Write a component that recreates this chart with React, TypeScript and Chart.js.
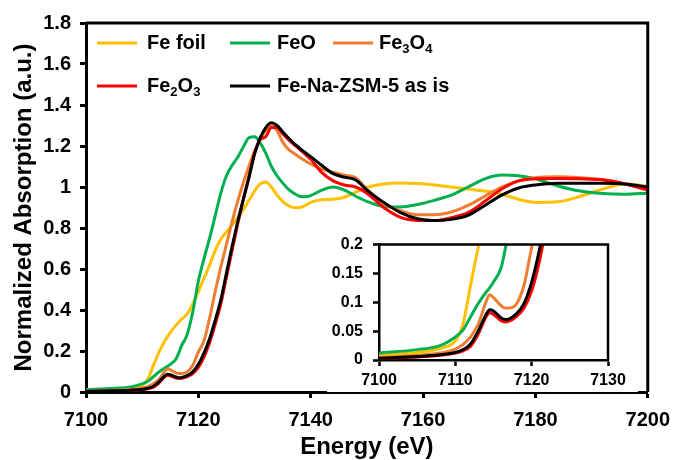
import React, { useEffect, useRef } from "react";
import { Chart, registerables } from "chart.js";

Chart.register(...registerables);

// ---------- data ----------
const energy = [
  7100, 7105, 7108, 7110, 7111, 7112, 7113, 7114, 7114.5, 7115, 7116, 7116.5, 7117, 7118, 7119, 7120,
  7121, 7122, 7123, 7124, 7125, 7126, 7127, 7128, 7129, 7130, 7131, 7132, 7133, 7134, 7135, 7136,
  7137, 7138, 7139, 7140, 7142, 7144, 7146, 7148, 7150, 7153, 7156, 7159, 7162, 7165, 7168, 7171,
  7174, 7177, 7180, 7184, 7188, 7192, 7196, 7200,
];

const feFoil = [
  0.008, 0.013, 0.02, 0.033, 0.062, 0.13, 0.195, 0.248, 0.27, 0.29, 0.325, 0.34, 0.355, 0.38, 0.43, 0.49,
  0.555, 0.62, 0.69, 0.745, 0.78, 0.815, 0.85, 0.89, 0.935, 0.98, 1.015, 1.025, 1.0, 0.96, 0.93, 0.91,
  0.9, 0.9, 0.91, 0.925, 0.938, 0.94, 0.95, 0.975, 0.998, 1.015, 1.02, 1.017, 1.01, 1.0, 0.99, 0.98,
  0.965, 0.94, 0.925, 0.928, 0.955, 0.99, 1.015, 1.005,
];

const feO = [
  0.012, 0.018, 0.025, 0.04, 0.052, 0.075, 0.098, 0.117, 0.125, 0.135, 0.16, 0.19, 0.225, 0.28, 0.39, 0.54,
  0.65, 0.75, 0.86, 0.97, 1.055, 1.105, 1.145, 1.195, 1.24, 1.245, 1.215, 1.165, 1.1, 1.055, 1.02, 0.99,
  0.97, 0.955, 0.952, 0.958, 0.985, 1.0, 0.985, 0.955, 0.93, 0.905, 0.903, 0.915, 0.935, 0.96, 1.0, 1.04,
  1.058, 1.055, 1.04, 1.005, 0.98, 0.968, 0.965, 0.97,
];

const fe3O4 = [
  0.004, 0.008, 0.012, 0.019, 0.027, 0.04, 0.062, 0.1, 0.113, 0.108, 0.094, 0.09, 0.09, 0.097, 0.13, 0.195,
  0.25, 0.36, 0.49, 0.61, 0.72, 0.83, 0.93, 1.02, 1.1, 1.175, 1.23, 1.275, 1.298, 1.275, 1.22, 1.185,
  1.165, 1.145, 1.128, 1.112, 1.087, 1.072, 1.058, 1.045, 0.99, 0.92, 0.885, 0.865, 0.865, 0.878, 0.91, 0.955,
  1.0, 1.03, 1.045, 1.05, 1.045, 1.035, 1.015, 0.99,
];

const fe2O3 = [
  0.003, 0.005, 0.008, 0.012, 0.016, 0.024, 0.045, 0.074, 0.082, 0.079, 0.068, 0.066, 0.067, 0.075, 0.09, 0.12,
  0.17, 0.24, 0.33, 0.43, 0.56, 0.69, 0.82, 0.94, 1.05, 1.165, 1.23, 1.245, 1.29, 1.29, 1.26, 1.232,
  1.208, 1.185, 1.16, 1.135, 1.07, 1.03, 1.01, 1.0, 0.97, 0.9, 0.852, 0.837, 0.836, 0.85, 0.875, 0.93,
  0.99, 1.03, 1.04, 1.042, 1.04, 1.035, 1.015, 0.985,
];

const feNaZsm5 = [
  0.003, 0.006, 0.009, 0.013, 0.018, 0.028, 0.05, 0.078, 0.087, 0.085, 0.073, 0.07, 0.071, 0.08, 0.098, 0.135,
  0.19, 0.26, 0.35, 0.45, 0.58, 0.71, 0.83, 0.94, 1.045, 1.16, 1.24, 1.29, 1.313, 1.3, 1.27, 1.24,
  1.213, 1.19, 1.168, 1.148, 1.105, 1.065, 1.048, 1.035, 0.985, 0.925, 0.875, 0.845, 0.836, 0.842, 0.862, 0.91,
  0.96, 0.995, 1.01, 1.018, 1.018, 1.018, 1.015, 1.0,
];

const seriesNames = ["Fe foil", "FeO", "Fe3O4", "Fe2O3", "Fe-Na-ZSM-5 as is"];
const seriesColors = ["#FFC000", "#00B050", "#ED7D31", "#FF0000", "#000000"];

const mainXTicks = [7100, 7120, 7140, 7160, 7180, 7200];
const mainYTicks = [0, 0.2, 0.4, 0.6, 0.8, 1, 1.2, 1.4, 1.6, 1.8];
const insetXTicks = [7100, 7110, 7120, 7130];
const insetYTicks = [0, 0.05, 0.1, 0.15, 0.2];

const xTitle = "Energy (eV)";
const yTitle = "Normalized Absorption (a.u.)";

// ---------- styling ----------
const FONT = "'Liberation Sans', Arial, Helvetica, sans-serif";

// legend placement (pixels on the main canvas): line start x, text x, row y
const legendPlacement = [
  { lineX: 97, textX: 147, y: 43 },
  { lineX: 230, textX: 277, y: 43 },
  { lineX: 333, textX: 379, y: 43 },
  { lineX: 97, textX: 147, y: 86 },
  { lineX: 230, textX: 277, y: 86 },
];

function fmt(v: number) {
  return String(Math.round(v * 1000) / 1000);
}

function buildDatasets(clip: number | undefined) {
  const values = [feFoil, feO, fe3O4, fe2O3, feNaZsm5];
  return values.map((vals, i) => ({
    label: seriesNames[i],
    data: energy.map((x, j) => ({ x, y: vals[j] })),
    borderColor: seriesColors[i],
    backgroundColor: seriesColors[i],
    borderWidth: 3,
    pointRadius: 0,
    pointHoverRadius: 0,
    cubicInterpolationMode: "monotone" as const,
    fill: false,
    order: 5 - i,
    ...(clip !== undefined ? { clip } : {}),
  }));
}

function drawRichLabel(ctx: CanvasRenderingContext2D, text: string, x: number, y: number, size: number) {
  let cx = x;
  for (let i = 0; i < text.length; i++) {
    const ch = text[i];
    const prev = i > 0 ? text[i - 1] : "";
    const isSub = /[0-9]/.test(ch) && /[A-Za-z]/.test(prev);
    if (isSub) {
      ctx.font = `bold ${Math.round(size * 0.65)}px ${FONT}`;
      ctx.fillText(ch, cx, y + size * 0.3);
    } else {
      ctx.font = `bold ${size}px ${FONT}`;
      ctx.fillText(ch, cx, y);
    }
    cx += ctx.measureText(ch).width;
  }
}

const framePlugin = (lw: number) => ({
  id: "frame",
  afterDraw(chart: any) {
    const { ctx, chartArea } = chart;
    ctx.save();
    ctx.strokeStyle = "#000";
    ctx.lineWidth = lw;
    ctx.beginPath();
    ctx.moveTo(chartArea.left, chartArea.top);
    ctx.lineTo(chartArea.right, chartArea.top);
    ctx.lineTo(chartArea.right, chartArea.bottom);
    ctx.stroke();
    ctx.restore();
  },
});

const legendPlugin = {
  id: "richLegend",
  afterDraw(chart: any) {
    const { ctx } = chart;
    ctx.save();
    chart.data.datasets.forEach((ds: any, i: number) => {
      const p = legendPlacement[i];
      ctx.strokeStyle = ds.borderColor;
      ctx.lineWidth = 3;
      ctx.beginPath();
      ctx.moveTo(p.lineX, p.y);
      ctx.lineTo(p.lineX + 40, p.y);
      ctx.stroke();
      ctx.fillStyle = "#000";
      ctx.textBaseline = "middle";
      ctx.textAlign = "left";
      drawRichLabel(ctx, ds.label, p.textX, p.y, 20);
    });
    ctx.restore();
  },
};

function axisCommon(tickSize: number, tickLen: number, pad: number, bw: number) {
  return {
    border: { display: true, color: "#000", width: bw },
    grid: {
      display: true,
      drawOnChartArea: false,
      drawTicks: true,
      tickLength: tickLen,
      tickWidth: bw,
      tickColor: "#000",
      color: "#000",
    },
    ticks: {
      color: "#000",
      font: { family: FONT, size: tickSize, weight: "bold" as const },
      padding: pad,
      autoSkip: false,
      maxRotation: 0,
      minRotation: 0,
    },
  };
}

export default function App() {
  const mainRef = useRef<HTMLCanvasElement | null>(null);
  const insetRef = useRef<HTMLCanvasElement | null>(null);

  useEffect(() => {
    if (!mainRef.current || !insetRef.current) return;

    const mx = axisCommon(20, 6, 10, 3);
    const my = axisCommon(20, 6, 9, 3);
    const main = new Chart(mainRef.current, {
      type: "line",
      data: { datasets: buildDatasets(undefined) as any },
      options: {
        animation: false,
        responsive: false,
        devicePixelRatio: 1,
        layout: { padding: { top: 23, right: 26, left: 0, bottom: 0 } },
        plugins: { legend: { display: false }, tooltip: { enabled: false } },
        scales: {
          x: {
            type: "linear",
            min: 7100,
            max: 7200,
            ...mx,
            ticks: { ...mx.ticks, callback: (v: any) => fmt(Number(v)) },
            afterBuildTicks: (s: any) => {
              s.ticks = mainXTicks.map((value) => ({ value }));
            },
            afterFit: (s: any) => {
              s.height = 68;
            },
            title: {
              display: true,
              text: xTitle,
              color: "#000",
              font: { family: FONT, size: 24, weight: "bold" },
              padding: { top: 0, bottom: -2 },
            },
          },
          y: {
            type: "linear",
            min: 0,
            max: 1.8,
            ...my,
            ticks: { ...my.ticks, callback: (v: any) => fmt(Number(v)) },
            afterBuildTicks: (s: any) => {
              s.ticks = mainYTicks.map((value) => ({ value }));
            },
            afterFit: (s: any) => {
              s.width = 86;
            },
            title: {
              display: true,
              text: yTitle,
              color: "#000",
              font: { family: FONT, size: 24, weight: "bold" },
              padding: { top: 10, bottom: 0 },
            },
          },
        },
      },
      plugins: [framePlugin(3), legendPlugin],
    } as any);

    const ix = axisCommon(16, 6, 5, 2.5);
    const iy = axisCommon(16, 6, 10, 2.5);
    const inset = new Chart(insetRef.current, {
      type: "line",
      data: { datasets: buildDatasets(0) as any },
      options: {
        animation: false,
        responsive: false,
        devicePixelRatio: 1,
        layout: { padding: { top: 11.5, right: 30, left: 0, bottom: 0 } },
        plugins: { legend: { display: false }, tooltip: { enabled: false } },
        scales: {
          x: {
            type: "linear",
            min: 7100,
            max: 7130,
            ...ix,
            ticks: { ...ix.ticks, callback: (v: any) => fmt(Number(v)) },
            afterBuildTicks: (s: any) => {
              s.ticks = insetXTicks.map((value) => ({ value }));
            },
            afterFit: (s: any) => {
              s.height = 32;
            },
          },
          y: {
            type: "linear",
            min: 0,
            max: 0.2,
            ...iy,
            ticks: { ...iy.ticks, callback: (v: any) => fmt(Number(v)) },
            afterBuildTicks: (s: any) => {
              s.ticks = insetYTicks.map((value) => ({ value }));
            },
            afterFit: (s: any) => {
              s.width = 52;
            },
          },
        },
      },
      plugins: [framePlugin(2.5)],
    } as any);

    return () => {
      main.destroy();
      inset.destroy();
    };
  }, []);

  return (
    <div
      style={{
        position: "fixed",
        left: 0,
        top: 0,
        width: 680,
        height: 460,
        background: "#fff",
        overflow: "hidden",
      }}
    >
      <canvas ref={mainRef} width={680} height={460} style={{ position: "absolute", left: 0, top: 0 }} />
      <div
        style={{
          position: "absolute",
          left: 327,
          top: 225,
          width: 311,
          height: 167,
          background: "#fff",
          borderBottom: "1px solid #000",
        }}
      >
        <canvas ref={insetRef} width={311} height={167} style={{ position: "absolute", left: 0, top: 0 }} />
      </div>
    </div>
  );
}
